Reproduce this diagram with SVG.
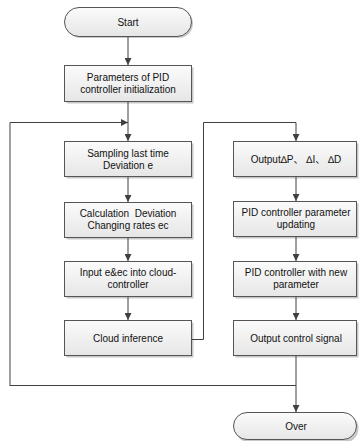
<svg xmlns="http://www.w3.org/2000/svg" width="359" height="441" viewBox="0 0 359 441">
<defs>
<linearGradient id="g" x1="0" y1="0" x2="0" y2="1">
<stop offset="0" stop-color="#fbfbfb"/>
<stop offset="1" stop-color="#e6e6e6"/>
</linearGradient>
<marker id="a" viewBox="0 0 10 10" refX="10" refY="5" markerWidth="7" markerHeight="7" orient="auto" markerUnits="userSpaceOnUse">
<path d="M0,0 L10,5 L0,10 z" fill="#404040"/>
</marker>
</defs>
<style>
.b{fill:url(#g);stroke:#555;stroke-width:1}
.s{fill:#c8c8c8}
.t{font-family:"Liberation Sans","Noto Sans CJK SC",sans-serif;font-size:10px;fill:#111;text-anchor:middle;white-space:pre}
.c{fill:none;stroke:#404040;stroke-width:1}
</style>
<g id="start">
<rect class="s" x="66" y="9" width="127" height="29" rx="14.5"/>
<rect class="b" x="64.5" y="7.5" width="127" height="29" rx="14.5"/>
<text class="t" x="128" y="25.5">Start</text>
</g>
<g id="init">
<rect class="s" x="66.5" y="67.5" width="127" height="36"/>
<rect class="b" x="64.5" y="65.5" width="127" height="36"/>
<text class="t" x="128" y="81">Parameters of PID</text>
<text class="t" x="128" y="93">controller initialization</text>
</g>
<g id="sampling">
<rect class="s" x="66.5" y="143.5" width="127" height="35"/>
<rect class="b" x="64.5" y="141.5" width="127" height="35"/>
<text class="t" x="128" y="157">Sampling last time</text>
<text class="t" x="128" y="169">Deviation e</text>
</g>
<g id="calc">
<rect class="s" x="66.5" y="204.5" width="127" height="35"/>
<rect class="b" x="64.5" y="202.5" width="127" height="35"/>
<text class="t" x="128" y="217">Calculation  Deviation</text>
<text class="t" x="128" y="229">Changing rates ec</text>
</g>
<g id="input">
<rect class="s" x="66.5" y="263.5" width="127" height="35"/>
<rect class="b" x="64.5" y="261.5" width="127" height="35"/>
<text class="t" x="128" y="276">Input e&amp;ec into cloud-</text>
<text class="t" x="128" y="288">controller</text>
</g>
<g id="cloud">
<rect class="s" x="66.5" y="322.5" width="127" height="35"/>
<rect class="b" x="64.5" y="320.5" width="127" height="35"/>
<text class="t" x="128" y="342">Cloud inference</text>
</g>
<g id="outputpid">
<rect class="s" x="235.5" y="143.5" width="123" height="35"/>
<rect class="b" x="233.5" y="141.5" width="123" height="35"/>
<text class="t" x="296" y="163">Output∆P、 ∆I、 ∆D</text>
</g>
<g id="update">
<rect class="s" x="235.5" y="203.5" width="123" height="35"/>
<rect class="b" x="233.5" y="201.5" width="123" height="35"/>
<text class="t" x="296" y="216">PID controller parameter</text>
<text class="t" x="296" y="228">updating</text>
</g>
<g id="newparam">
<rect class="s" x="235.5" y="263.5" width="123" height="35"/>
<rect class="b" x="233.5" y="261.5" width="123" height="35"/>
<text class="t" x="296" y="276">PID controller with new</text>
<text class="t" x="296" y="288">parameter</text>
</g>
<g id="signal">
<rect class="s" x="235.5" y="322.5" width="123" height="35"/>
<rect class="b" x="233.5" y="320.5" width="123" height="35"/>
<text class="t" x="296" y="342">Output control signal</text>
</g>
<g id="over">
<rect class="s" x="235.5" y="414.5" width="123" height="28" rx="14"/>
<rect class="b" x="233.5" y="412.5" width="123" height="27" rx="13.5"/>
<text class="t" x="296" y="430">Over</text>
</g>
<g id="connectors">
<path class="c" d="M128,37 V65" marker-end="url(#a)"/>
<path class="c" d="M128,102 V141" marker-end="url(#a)"/>
<path class="c" d="M10,386 V122.5 H128" marker-end="url(#a)"/>
<path class="c" d="M128,177 V202" marker-end="url(#a)"/>
<path class="c" d="M128,238 V261" marker-end="url(#a)"/>
<path class="c" d="M128,297 V320" marker-end="url(#a)"/>
<path class="c" d="M192,339.5 H203.5 V122.5 H296 V141" marker-end="url(#a)"/>
<path class="c" d="M296,177 V201" marker-end="url(#a)"/>
<path class="c" d="M296,237 V261" marker-end="url(#a)"/>
<path class="c" d="M296,297 V320" marker-end="url(#a)"/>
<path class="c" d="M296,356 V412" marker-end="url(#a)"/>
<path class="c" d="M10,385.5 H296"/>
</g>
</svg>
